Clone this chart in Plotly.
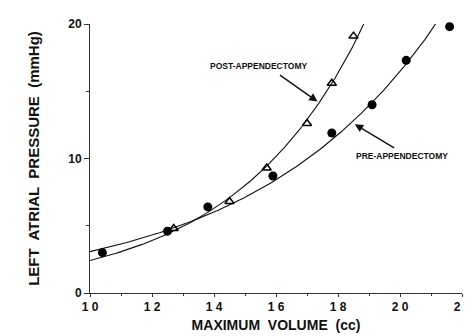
import numpy as np
import plotly.graph_objects as go

# Data
pre_volume = [10.4, 12.5, 13.8, 15.9, 17.8, 19.1, 20.2, 21.6]
pre_pressure = [3.0, 4.6, 6.4, 8.7, 11.9, 14.0, 17.3, 19.8]
post_volume = [12.7, 14.5, 15.7, 17.0, 17.8, 18.5]
post_pressure = [4.8, 6.8, 9.3, 12.6, 15.6, 19.1]

x_tick_vals = [10, 12, 14, 16, 18, 20, 22]
x_tick_text = ["1 0", "1 2", "1 4", "1 6", "1 8", "2 0", "2 2"]
y_tick_vals = [0, 10, 20]
y_tick_text = ["0", "10", "20"]


def exp_fit(x, y):
    x = np.asarray(x, float)
    y = np.asarray(y, float)
    b, ln_a = np.polyfit(x, np.log(y), 1)
    xs = np.linspace(10, 22, 300)
    return xs, np.exp(ln_a + b * xs)


pre_fx, pre_fy = exp_fit(pre_volume, pre_pressure)
post_fx, post_fy = exp_fit(post_volume, post_pressure)

FONT = "Liberation Sans"

fig = go.Figure()
fig.add_trace(go.Scatter(x=pre_fx, y=pre_fy, mode="lines",
                         line=dict(color="#111", width=1.1), hoverinfo="skip"))
fig.add_trace(go.Scatter(x=post_fx, y=post_fy, mode="lines",
                         line=dict(color="#111", width=1.1), hoverinfo="skip"))
fig.add_trace(go.Scatter(x=pre_volume, y=pre_pressure, mode="markers",
                         marker=dict(symbol="circle", size=9, color="black"),
                         cliponaxis=False))
fig.add_trace(go.Scatter(x=post_volume, y=post_pressure, mode="markers",
                         marker=dict(symbol="triangle-up-open", size=8, color="black",
                                     line=dict(width=1.5)),
                         cliponaxis=False))

fig.update_layout(
    width=472, height=336,
    margin=dict(l=82, r=9, t=11, b=51),
    paper_bgcolor="white", plot_bgcolor="white",
    showlegend=False,
    font=dict(family=FONT, color="#111", size=11),
    xaxis=dict(range=[10, 22], tickvals=x_tick_vals, ticktext=x_tick_text,
               showgrid=False, zeroline=False, showline=True, linecolor="#333",
               linewidth=1, ticks="outside", ticklen=3, tickcolor="#333",
               minor=dict(dtick=1, ticks="outside", ticklen=2, tickcolor="#333"),
               tickfont=dict(family=FONT, size=12, color="#111", weight="bold"),
               title=dict(text="<b>MAXIMUM  VOLUME  (cc)</b>", standoff=6,
                          font=dict(family=FONT, size=14, color="#111"))),
    yaxis=dict(range=[0, 20], tickvals=y_tick_vals, ticktext=y_tick_text,
               showgrid=False, zeroline=False, showline=True, linecolor="#333",
               linewidth=1, ticks="outside", ticklen=5, tickcolor="#333",
               minor=dict(dtick=5, ticks="outside", ticklen=3, tickcolor="#333"),
               tickfont=dict(family=FONT, size=12, color="#111", weight="bold"),
               title=dict(text="<b>LEFT  ATRIAL  PRESSURE  (mmHg)</b>", standoff=24,
                          font=dict(family=FONT, size=15, color="#111"))),
)

# labels and arrows
fig.add_annotation(x=15.45, y=16.86, text="<b>POST-APPENDECTOMY</b>", showarrow=False,
                   font=dict(family=FONT, size=8.5, color="#111"))
fig.add_annotation(x=17.34, y=14.23, ax=16.08, ay=16.28, axref="x", ayref="y",
                   text="", showarrow=True, arrowhead=2, arrowsize=1.2,
                   arrowwidth=1.4, arrowcolor="#111")
fig.add_annotation(x=20.05, y=10.15, text="<b>PRE-APPENDECTOMY</b>", showarrow=False,
                   font=dict(family=FONT, size=8.5, color="#111"))
fig.add_annotation(x=18.54, y=12.55, ax=19.86, ay=10.73, axref="x", ayref="y",
                   text="", showarrow=True, arrowhead=2, arrowsize=1.2,
                   arrowwidth=1.4, arrowcolor="#111")

fig.write_html("out.html")
